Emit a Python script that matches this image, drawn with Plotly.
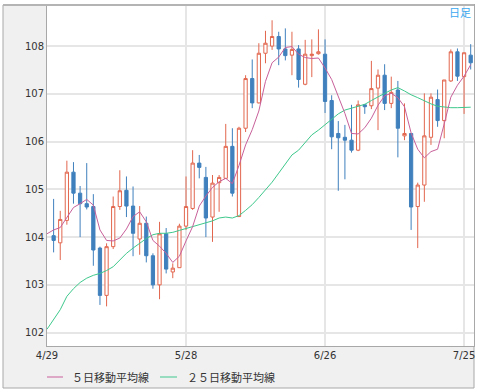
import plotly.graph_objects as go

# ---- data ----
tick_labels = ["4/29", "5/28", "6/26", "7/25"]
tick_index = [0, 21, 42, 63]

candle_index = list(range(1, 65))
opens = [104.03, 103.88, 104.35, 105.36, 104.92, 104.70, 104.64, 103.77, 102.78, 103.80,
         104.64, 104.98, 104.65, 103.96, 104.29, 103.61, 103.00, 104.07, 103.27, 103.36,
         104.23, 104.60, 105.55, 105.25, 104.42, 105.14, 105.23, 105.90, 104.43, 106.28,
         107.32, 106.81, 107.85, 108.00, 108.20, 107.94, 107.81, 107.94, 107.20, 107.80,
         107.84, 107.83, 106.86, 106.17, 106.09, 106.03, 105.82, 106.77, 106.75, 107.12,
         107.39, 106.80, 107.08, 106.12, 106.17, 104.64, 105.09, 106.09, 106.88, 106.44,
         107.27, 107.88, 107.36, 107.81]
highs = [104.80, 104.55, 105.60, 105.57, 105.07, 105.55, 104.90, 103.80, 103.87, 104.85,
         105.40, 105.27, 105.06, 104.65, 104.43, 103.66, 104.32, 104.19, 103.45, 104.28,
         105.27, 105.82, 105.72, 105.47, 105.30, 105.30, 106.37, 106.28, 106.31, 107.39,
         107.72, 108.06, 108.32, 108.54, 108.30, 108.37, 108.30, 108.02, 108.13, 108.14,
         108.35, 108.14, 106.97, 106.43, 106.35, 106.77, 106.86, 106.79, 107.69, 107.51,
         107.62, 107.36, 107.27, 106.80, 106.17, 105.14, 107.01, 107.01, 107.09, 107.29,
         107.93, 107.95, 107.86, 108.04]
lows = [103.68, 103.52, 104.26, 104.70, 104.00, 104.58, 103.40, 102.58, 102.55, 103.75,
        104.57, 104.42, 103.60, 103.63, 103.47, 102.92, 102.70, 103.24, 103.14, 103.36,
        104.15, 104.57, 105.23, 104.00, 103.90, 104.53, 105.23, 104.85, 104.43, 106.20,
        106.70, 106.80, 107.64, 107.92, 107.60, 107.70, 107.39, 107.13, 107.18, 107.35,
        107.82, 106.60, 105.84, 104.97, 105.21, 105.77, 105.80, 106.58, 106.68, 106.24,
        106.66, 106.70, 105.67, 106.03, 104.15, 103.77, 104.74, 105.93, 106.31, 106.07,
        107.25, 107.27, 106.58, 107.51]
closes = [103.93, 104.37, 105.36, 104.92, 104.70, 104.63, 103.73, 102.78, 103.80, 104.64,
          104.97, 104.65, 104.08, 104.29, 103.61, 103.00, 104.07, 103.33, 103.35, 104.23,
          104.64, 105.55, 105.46, 104.40, 105.13, 105.25, 105.90, 104.92, 106.28, 107.32,
          106.81, 107.85, 108.06, 108.20, 107.94, 107.80, 107.93, 107.30, 107.83, 107.83,
          107.88, 106.84, 106.10, 106.08, 106.03, 105.82, 106.77, 106.73, 107.11, 107.39,
          106.80, 107.03, 106.28, 106.17, 104.63, 105.09, 106.12, 106.93, 106.44, 107.29,
          107.88, 107.37, 107.86, 107.65]

ma_index = list(range(0, 65))
ma5 = [104.07, 104.15, 104.20, 104.42, 104.62, 104.70, 104.79, 104.67, 104.15, 103.93,
       103.92, 103.98, 104.17, 104.43, 104.53, 104.32, 103.93, 103.81, 103.66, 103.47,
       103.60, 103.92, 104.22, 104.65, 104.86, 105.04, 105.16, 105.23, 105.12, 105.50,
       105.93, 106.25, 106.64, 107.26, 107.65, 107.77, 107.97, 107.99, 107.83, 107.76,
       107.74, 107.75, 107.54, 107.30, 106.95, 106.59, 106.17, 106.16, 106.29, 106.49,
       106.76, 106.96, 107.01, 106.92, 106.73, 106.18, 105.84, 105.66, 105.79, 105.84,
       106.37, 106.93, 107.18, 107.37, 107.61]
ma25 = [102.07, 102.28, 102.48, 102.76, 102.92, 103.05, 103.14, 103.20, 103.24, 103.30,
        103.38, 103.52, 103.66, 103.77, 103.87, 103.97, 104.05, 104.08, 104.08, 104.10,
        104.14, 104.18, 104.23, 104.27, 104.30, 104.34, 104.40, 104.42, 104.40, 104.45,
        104.56, 104.68, 104.83, 104.98, 105.15, 105.34, 105.52, 105.72, 105.82, 105.98,
        106.14, 106.24, 106.36, 106.48, 106.58, 106.66, 106.70, 106.74, 106.78, 106.86,
        106.94, 107.01, 107.08, 107.13, 107.06, 106.98, 106.92, 106.85, 106.79, 106.74,
        106.72, 106.71, 106.71, 106.72, 106.72]

legend_names = ["５日移動平均線", "２５日移動平均線"]
ma_colors = ["#c8609a", "#3ec88c"]
up_color = "#e2664e"
down_color = "#3f80bd"

fig = go.Figure()
fig.add_trace(go.Candlestick(
    x=candle_index, open=opens, high=highs, low=lows, close=closes,
    increasing=dict(line=dict(color=up_color, width=1), fillcolor="white"),
    decreasing=dict(line=dict(color=down_color, width=1), fillcolor=down_color),
    whiskerwidth=0, showlegend=False, hoverinfo="skip"))
fig.add_trace(go.Scatter(x=ma_index, y=ma25, mode="lines",
                         line=dict(color=ma_colors[1], width=1), showlegend=False))
fig.add_trace(go.Scatter(x=ma_index, y=ma5, mode="lines",
                         line=dict(color=ma_colors[0], width=1), showlegend=False))

W, H = 478, 392
L, R, T, B = 47, 4, 5, 46
pw, ph = W - L - R, H - T - B


def px(xp):
    return (xp - L) / pw


def py(yp):
    return (H - B - yp) / ph


shapes = [
    # outer grey frame
    dict(type="rect", xref="paper", yref="paper", x0=px(3), x1=px(474), y0=py(388), y1=py(5),
         fillcolor="#f0f0f0", line=dict(color="#a8a8a8", width=1), layer="below"),
    # white plotting area
    dict(type="rect", xref="paper", yref="paper", x0=0, x1=1, y0=0, y1=1,
         fillcolor="white", line=dict(width=0), layer="below"),
    # top thick border
    dict(type="line", xref="paper", yref="paper", x0=px(3), x1=px(474), y0=py(5), y1=py(5),
         line=dict(color="#b4b4b4", width=2)),
    # legend glyphs
    dict(type="line", xref="paper", yref="paper", x0=px(47), x1=px(63), y0=py(377), y1=py(377),
         line=dict(color=ma_colors[0], width=1)),
    dict(type="line", xref="paper", yref="paper", x0=px(160), x1=px(177), y0=py(377), y1=py(377),
         line=dict(color=ma_colors[1], width=1)),
]

annotations = [
    dict(xref="paper", yref="paper", x=px(70), y=py(377), text=legend_names[0], showarrow=False,
         xanchor="left", yanchor="middle",
         font=dict(family="Noto Sans CJK JP", size=11, color="#333333")),
    dict(xref="paper", yref="paper", x=px(185), y=py(377), text=legend_names[1], showarrow=False,
         xanchor="left", yanchor="middle",
         font=dict(family="Noto Sans CJK JP", size=11, color="#333333")),
    dict(xref="paper", yref="paper", x=px(473), y=py(12), text="日足", showarrow=False,
         xanchor="right", yanchor="middle",
         font=dict(family="Noto Sans CJK JP", size=11, color="#3aa8f0")),
]

fig.update_layout(
    width=W, height=H,
    margin=dict(l=L, r=R, t=T, b=B),
    paper_bgcolor="white", plot_bgcolor="rgba(0,0,0,0)",
    showlegend=False,
    shapes=shapes, annotations=annotations,
    font=dict(family="DejaVu Sans", size=10, color="#333333"),
    xaxis=dict(range=[0, 64.5], tickvals=tick_index, ticktext=tick_labels,
               showgrid=True, gridcolor="#e6e6e6", gridwidth=1.5,
               showline=True, linecolor="#a8a8a8", linewidth=1, mirror=True,
               ticks="", zeroline=False, rangeslider=dict(visible=False),
               tickfont=dict(family="DejaVu Sans", size=10, color="#333333")),
    yaxis=dict(range=[101.72, 108.86], tickvals=[102, 103, 104, 105, 106, 107, 108],
               showgrid=True, gridcolor="#e6e6e6", gridwidth=1.5,
               showline=True, linecolor="#a8a8a8", linewidth=1, mirror=True,
               ticks="", zeroline=False,
               tickfont=dict(family="DejaVu Sans", size=10, color="#333333")),
)

fig.write_html("out.html", config={"displayModeBar": False},
               post_script="document.body.style.margin='0';document.body.style.padding='0';")
